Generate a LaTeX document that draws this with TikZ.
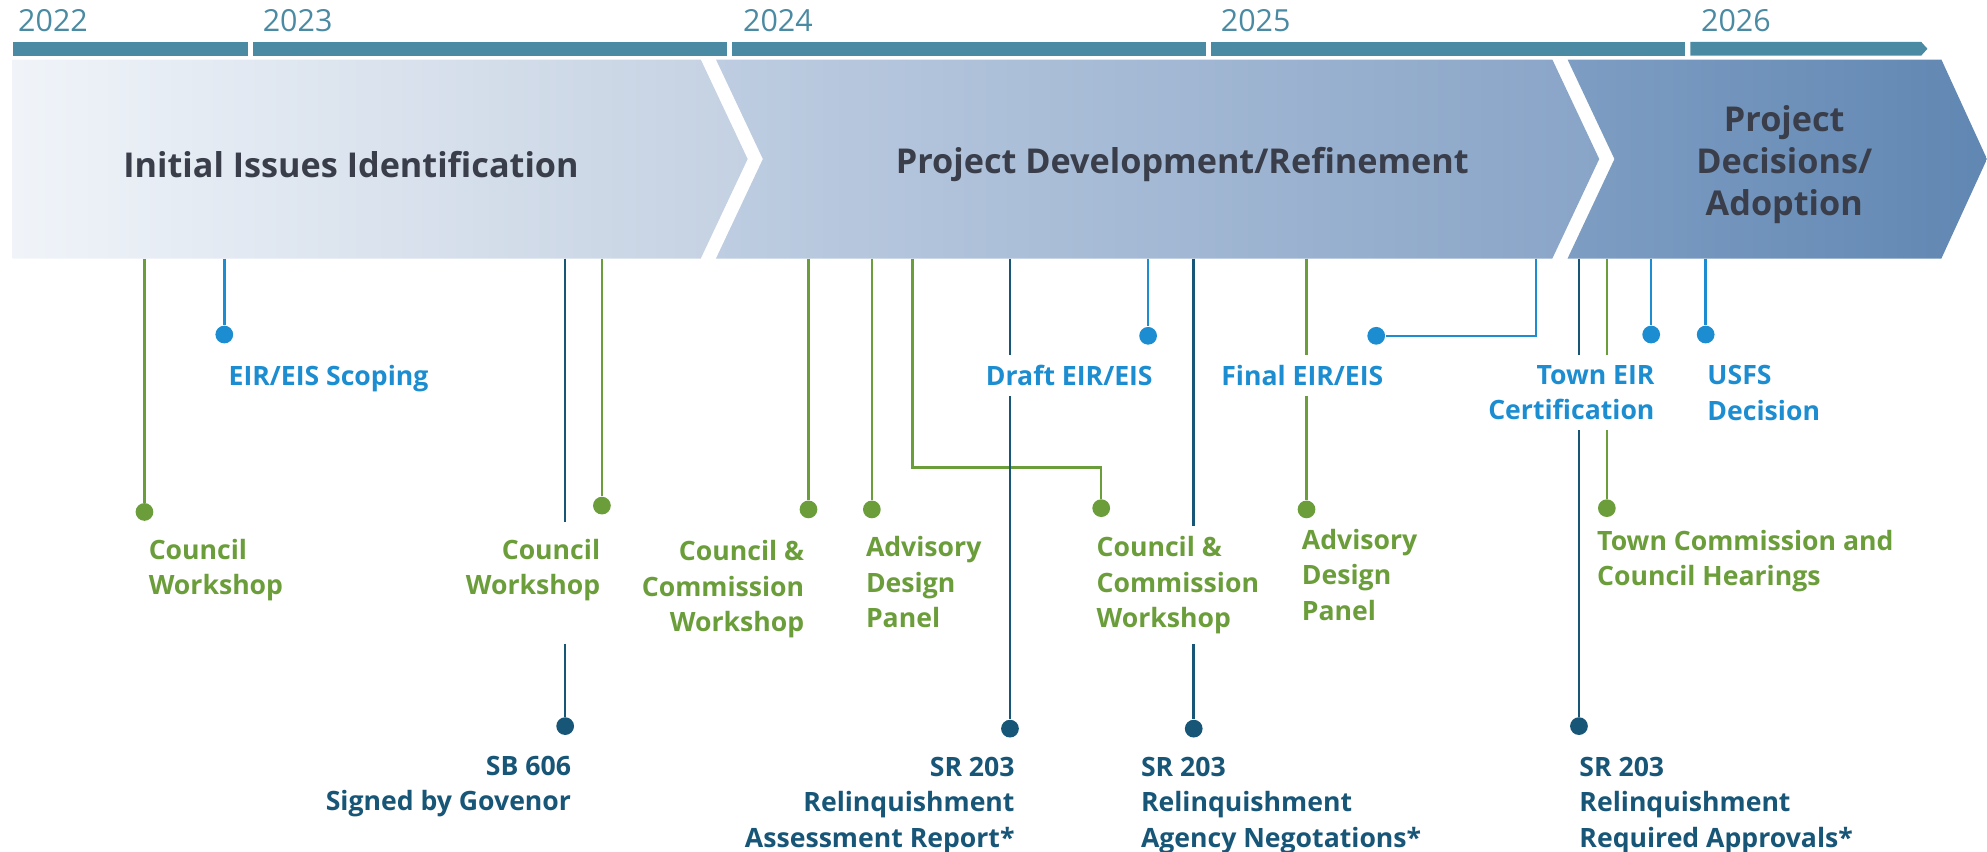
\documentclass[tikz,border=0pt]{standalone}
\usepackage{fontspec}
\setmainfont{Open Sans}
\definecolor{yearteal}{RGB}{74,138,162}
\definecolor{evgreen}{RGB}{107,158,59}
\definecolor{evblue}{RGB}{28,141,208}
\definecolor{evdark}{RGB}{24,86,120}
\definecolor{phasegray}{RGB}{58,62,74}
\definecolor{ph1a}{RGB}{240,244,249}
\definecolor{ph1b}{RGB}{196,209,226}
\definecolor{ph2a}{RGB}{190,205,225}
\definecolor{ph2b}{RGB}{136,164,199}
\definecolor{ph3a}{RGB}{126,157,195}
\definecolor{ph3b}{RGB}{96,135,178}
\begin{document}
\begin{tikzpicture}[x=0.5pt,y=-0.5pt,
  yearlbl/.style={text=yearteal, font=\fontsize{12}{14}\selectfont, inner sep=0pt, anchor=base west},
  phaselbl/.style={text=phasegray, font=\fontsize{13.5}{16.5}\selectfont\bfseries, align=center},
  evdot/.style={circle, fill=#1, inner sep=0pt, minimum size=7pt},
  evline/.style={draw=#1, line width=1pt},
  evlbl/.style={text=#1, font=\fontsize{10.5}{14}\selectfont\bfseries, fill=white, inner xsep=2pt, inner ysep=4pt}]
\useasboundingbox (0,0) rectangle (1568,672);

% years
\fill[yearteal] (10,33) rectangle (196,44);
\fill[yearteal] (200,33) rectangle (574,44);
\fill[yearteal] (578,33) rectangle (952,44);
\fill[yearteal] (956,33) rectangle (1330,44);
\fill[yearteal] (1334,33) -- (1516,33) -- (1521,38.5) -- (1516,44) -- (1334,44) -- cycle;
\node[yearlbl] (y2022) at (14,25) {2022};
\node[yearlbl] (y2023) at (207,25) {2023};
\node[yearlbl] (y2024) at (586,25) {2024};
\node[yearlbl] (y2025) at (963,25) {2025};
\node[yearlbl] (y2026) at (1342,25) {2026};

% phases
\shade[left color=ph1a, right color=ph1b] (10,47) -- (553,47) -- (590,125.5) -- (553,204) -- (10,204) -- cycle;
\shade[left color=ph2a, right color=ph2b] (565,47) -- (1225,47) -- (1262,125.5) -- (1225,204) -- (565,204) -- (602,125.5) -- cycle;
\shade[left color=ph3a, right color=ph3b] (1237,47) -- (1532,47) -- (1568,125.5) -- (1532,204) -- (1237,204) -- (1274,125.5) -- cycle;
\node[phaselbl] (p1) at (277,130) {Initial Issues Identification};
\node[phaselbl] (p2) at (933,130) {Project Development/Refinement};
\node[phaselbl] (p3) at (1408,130) {Project\\Decisions/\\Adoption};

% event dots
\node[evdot=evgreen] (cw1) at (114,404) {};
\node[evdot=evblue] (scope) at (177,264) {};
\node[evdot=evdark] (sb606) at (446,573) {};
\node[evdot=evgreen] (cw2) at (475,399) {};
\node[evdot=evgreen] (ccw1) at (638,402) {};
\node[evdot=evgreen] (adp1) at (688,402) {};
\node[evdot=evgreen] (ccw2) at (869,401) {};
\node[evdot=evdark] (sr1) at (797,575) {};
\node[evdot=evblue] (draft) at (906,265) {};
\node[evdot=evdark] (sr2) at (942,575) {};
\node[evdot=evgreen] (adp2) at (1031,402) {};
\node[evdot=evblue] (final) at (1086,265) {};
\node[evdot=evdark] (sr3) at (1246,573) {};
\node[evdot=evgreen] (hear) at (1268,401) {};
\node[evdot=evblue] (cert) at (1303,264) {};
\node[evdot=evblue] (usfs) at (1346,264) {};

\coordinate (cw1top) at (114,204);
\coordinate (scopetop) at (177,204);
\coordinate (sb606top) at (446,204);
\coordinate (sb606low) at (446,508);
\coordinate (cw2top) at (475,204);
\coordinate (ccw1top) at (638,204);
\coordinate (adp1top) at (688,204);
\coordinate (ccw2top) at (720,204);
\coordinate (ccw2bend) at (869,369);
\coordinate (sr1top) at (797,204);
\coordinate (drafttop) at (906,204);
\coordinate (sr2top) at (942,204);
\coordinate (adp2top) at (1031,204);
\coordinate (finaltop) at (1212,204);
\coordinate (sr3top) at (1246,204);
\coordinate (heartop) at (1268,204);
\coordinate (certtop) at (1303,204);
\coordinate (usfstop) at (1346,204);

\draw[evline=evgreen] (cw1top) -- (cw1);
\draw[evline=evblue] (scopetop) -- (scope);
\draw[evline=evdark] (sb606top) -- (446,412);
\draw[evline=evdark] (sb606low) -- (sb606);
\draw[evline=evgreen] (cw2top) -- (cw2);
\draw[evline=evgreen] (ccw1top) -- (ccw1);
\draw[evline=evgreen] (adp1top) -- (adp1);
\draw[evline=evgreen] (ccw2top) |- (ccw2bend) -- (ccw2);
\draw[evline=evdark] (sr1top) -- (sr1);
\draw[evline=evblue] (drafttop) -- (draft);
\draw[evline=evdark] (sr2top) -- (sr2);
\draw[evline=evgreen] (adp2top) -- (adp2);
\draw[evline=evblue] (finaltop) |- (final);
\draw[evline=evdark] (sr3top) -- (sr3);
\draw[evline=evgreen] (heartop) -- (hear);
\draw[evline=evblue] (certtop) -- (cert);
\draw[evline=evblue] (usfstop) -- (usfs);

% labels
\node[evlbl=evgreen, anchor=north west, align=left] (cw1lbl) at (113,417) {Council\\Workshop};
\node[evlbl=evblue, anchor=north west, align=left] (scopelbl) at (176,280) {EIR/EIS Scoping};
\node[evlbl=evdark, anchor=north east, align=right] (sb606lbl) at (455,588) {SB 606\\Signed by Govenor};
\node[evlbl=evgreen, anchor=north east, align=right] (cw2lbl) at (478,417) {Council\\Workshop};
\node[evlbl=evgreen, anchor=north east, align=right] (ccw1lbl) at (639,418) {Council \&\\Commission\\Workshop};
\node[evlbl=evgreen, anchor=north west, align=left] (adp1lbl) at (679,415) {Advisory\\Design\\Panel};
\node[evlbl=evgreen, anchor=north west, align=left] (ccw2lbl) at (861,415) {Council \&\\Commission\\Workshop};
\node[evlbl=evdark, anchor=north east, align=right] (sr1lbl) at (805,589) {SR 203\\Relinquishment\\Assessment Report*};
\node[evlbl=evblue, anchor=north east, align=right] (draftlbl) at (914,280) {Draft EIR/EIS};
\node[evlbl=evdark, anchor=north west, align=left] (sr2lbl) at (896,589) {SR 203\\Relinquishment\\Agency Negotations*};
\node[evlbl=evgreen, anchor=north west, align=left] (adp2lbl) at (1023,409) {Advisory\\Design\\Panel};
\node[evlbl=evblue, anchor=north east, align=right] (finallbl) at (1096,280) {Final EIR/EIS};
\node[evlbl=evblue, anchor=north east, align=right] (certlbl) at (1310,280) {Town EIR\\Certification};
\node[evlbl=evblue, anchor=north west, align=left] (usfslbl) at (1343,280) {USFS\\Decision};
\node[evlbl=evgreen, anchor=north west, align=left] (hearlbl) at (1256,410) {Town Commission and\\Council Hearings};
\node[evlbl=evdark, anchor=north west, align=left] (sr3lbl) at (1242,589) {SR 203\\Relinquishment\\Required Approvals*};
\end{tikzpicture}
\end{document}
